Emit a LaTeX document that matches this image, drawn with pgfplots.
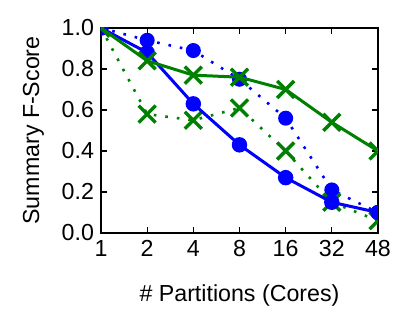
\documentclass[border=0pt]{standalone}
\usepackage{fontspec}
\setmainfont{Liberation Sans}
\usepackage{pgfplots}
\pgfplotsset{compat=1.18}
\definecolor{mplblue}{rgb}{0,0,1}
\definecolor{mplgreen}{rgb}{0,0.5,0}
\begin{document}
\begin{tikzpicture}
  \begin{axis}[
      scale only axis,
      width=138.5pt, height=102.5pt,
      xmin=0, xmax=6, ymin=0, ymax=1,
      xtick={0,1,2,3,4,5,6},
      xticklabels={1,2,4,8,16,32,48},
      ytick={0,0.2,0.4,0.6,0.8,1.0},
      yticklabel style={/pgf/number format/.cd,fixed,fixed zerofill,precision=1},
      /pgf/number format/assume math mode=true,
      tick align=inside,
      major tick length=3pt,
      tick style={black, line width=0.6pt},
      axis line style={line width=1pt},
      xlabel={\# Partitions (Cores)},
      ylabel={Summary F-Score},
      xlabel style={yshift=-7pt},
      ylabel style={yshift=2pt},
      every tick label/.append style={font=\fontsize{11.6}{13}\selectfont},
      every axis label/.append style={font=\fontsize{11.6}{13}\selectfont},
      clip marker paths=true,
    ]
    % dotted series
    \addplot[color=mplblue, line width=1.3pt, dash pattern=on 1.3pt off 4.5pt,
      mark=*, mark size=3.1pt, mark options={solid, draw=mplblue, fill=mplblue}] coordinates {
      (0,1.0) (1,0.94) (2,0.89) (3,0.75) (4,0.56) (5,0.21) (6,0.10)
    };
    \addplot[color=mplgreen, line width=1.3pt, dash pattern=on 1.3pt off 4.5pt,
      mark=x, mark size=6pt, mark options={solid, line width=1.7pt}] coordinates {
      (0,1.0) (1,0.58) (2,0.55) (3,0.61) (4,0.40) (5,0.15) (6,0.06)
    };
    % solid series
    \addplot[color=mplblue, line width=1.5pt,
      mark=*, mark size=3.1pt, mark options={fill=mplblue}] coordinates {
      (0,1.0) (1,0.88) (2,0.63) (3,0.43) (4,0.27) (5,0.15) (6,0.10)
    };
    \addplot[color=mplgreen, line width=1.5pt,
      mark=x, mark size=6pt, mark options={line width=1.7pt}] coordinates {
      (0,1.0) (1,0.84) (2,0.77) (3,0.76) (4,0.70) (5,0.54) (6,0.40)
    };
  \end{axis}
  \path (current axis.south west) ++(-50.5pt,-46.5pt) rectangle ++(199pt,163pt);
\end{tikzpicture}
\end{document}
